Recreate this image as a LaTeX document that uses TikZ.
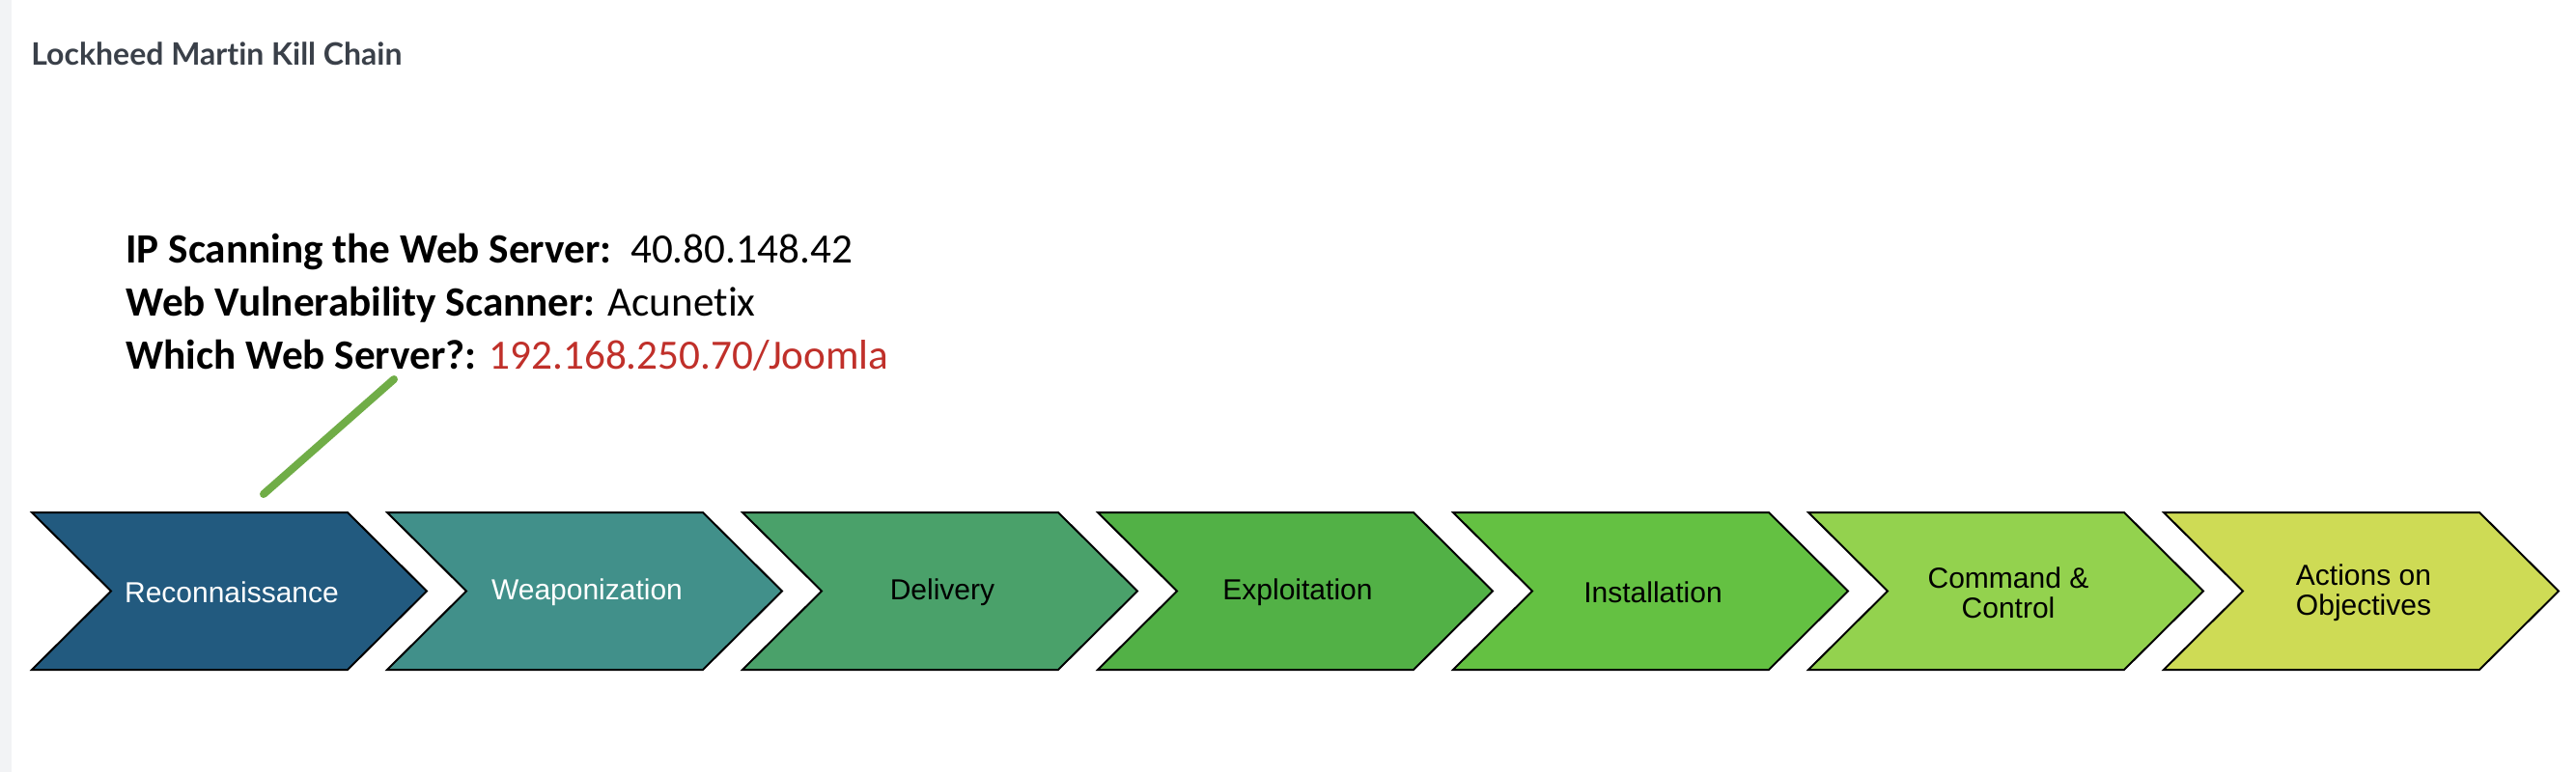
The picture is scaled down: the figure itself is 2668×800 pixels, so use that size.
\documentclass[tikz,border=0pt]{standalone}
\usepackage{fontspec}
\setmainfont{Carlito}[Ligatures=NoCommon]
\newfontfamily\chevfont{Liberation Sans}
\newfontfamily\titlefont{Lato}[Ligatures=NoCommon]
\definecolor{kcA}{HTML}{225A7F}
\definecolor{kcB}{HTML}{41908A}
\definecolor{kcC}{HTML}{4AA16A}
\definecolor{kcD}{HTML}{52B146}
\definecolor{kcE}{HTML}{64C142}
\definecolor{kcF}{HTML}{93D24E}
\definecolor{kcG}{HTML}{CEDB55}
\definecolor{titlegray}{HTML}{3A4049}
\definecolor{stripgray}{HTML}{F2F3F5}
\definecolor{calloutgreen}{HTML}{70AD47}
\definecolor{answerred}{HTML}{C0302A}
\tikzset{
  stage/.style={draw=black, line width=1pt, line join=miter},
  stagetext/.style={font=\chevfont\fontsize{15}{15.5}\selectfont, align=center, inner sep=0pt},
  info/.style={font=\fontsize{21.6}{26}\selectfont, inner sep=0pt, anchor=base west},
  callout/.style={calloutgreen, line width=4pt, line cap=round}
}
\begin{document}
\begin{tikzpicture}[x=0.5pt, y=0.5pt]
  \useasboundingbox (0,0) rectangle (2668,800);
  \fill[white] (0,0) rectangle (2668,800);
  \fill[stripgray] (0,0) rectangle (12,800);

  \node[anchor=base west, inner sep=0pt, text=titlegray,
        font=\titlefont\bfseries\fontsize{16}{19}\selectfont] (title) at (32,732) {Lockheed Martin Kill Chain};

  \node[info] (ipscan) at (130,528) {\textbf{IP Scanning the Web Server:}\ \ 40.80.148.42};
  \node[info] (vulnscan) at (130,473) {\textbf{Web Vulnerability Scanner:} Acunetix};
  \node[info] (webserver) at (130,418) {\textbf{Which Web Server?:} \textcolor{answerred}{192.168.250.70/Joomla}};

  % the seven stages
  \foreach \i/\nm/\fc/\tc/\lbl in {0/recon/kcA/white/Reconnaissance, 1/weapon/kcB/white/Weaponization,
      2/deliv/kcC/black/Delivery, 3/exploit/kcD/black/Exploitation, 4/install/kcE/black/Installation,
      5/cnc/kcF/black/{Command \&\\Control}, 6/actions/kcG/black/{Actions on\\Objectives}}
  {
    \pgfmathsetmacro\L{33+368*\i}
    \draw[stage, fill=\fc] (\L,269) -- ++(327,0) -- ++(82,-81.5) -- ++(-82,-81.5)
      -- ++(-327,0) -- ++(82,81.5) -- cycle;
    \node[stagetext, text=\tc] (\nm) at (\L+207,186) {\lbl};
  }

  \coordinate (callout top) at (408,407);
  \coordinate (callout end) at (273,288);
  \draw[callout] (callout top) -- (callout end);
\end{tikzpicture}
\end{document}
